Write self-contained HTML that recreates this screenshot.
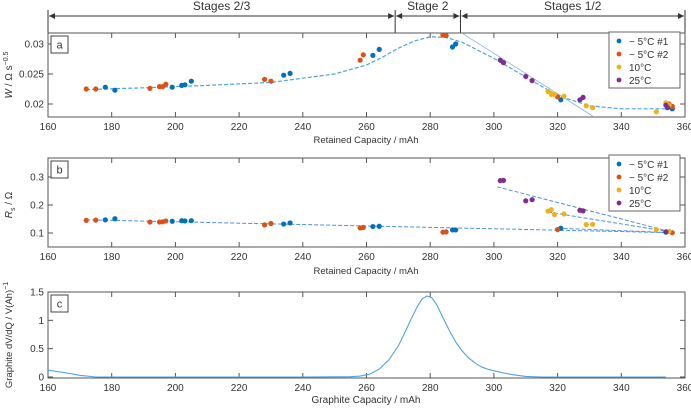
<!DOCTYPE html>
<html><head><meta charset="utf-8"><style>
body{margin:0;background:#fff;font-family:"Liberation Sans",sans-serif}
svg text{font-family:"Liberation Sans",sans-serif;fill:#333}
</style></head><body>
<svg id="c" width="691" height="410" viewBox="0 0 691 410" xmlns="http://www.w3.org/2000/svg"></svg>
<script>
const xTicks=[160,180,200,220,240,260,280,300,320,340,360];
const aTicks=[0.02,0.025,0.03];
const bTicks=[0.1,0.2,0.3];
const cTicks=[0,0.5,1,1.5];
const stageBounds=[160,269,289.5,360];
const stageNames=["Stages 2/3","Stage 2","Stages 1/2"];
const seriesNames=["\u2212 5\u00b0C #1","\u2212 5\u00b0C #2","10\u00b0C","25\u00b0C"];
const colors=["#0072BD","#D95319","#EDB120","#7E2F8E"];
const aM1x=[178,181,199,202,203,205,234,236,262,264,287,288,321,356];
const aM1y=[0.0228,0.0223,0.0228,0.0231,0.0232,0.0238,0.0248,0.0251,0.0281,0.0291,0.0295,0.0300,0.0207,0.0192];
const aM2x=[172,175,192,195,196,197,228,230,258,259,284,285,320,355,356];
const aM2y=[0.0225,0.0225,0.0226,0.0229,0.0229,0.0233,0.0241,0.0238,0.0273,0.0282,0.0315,0.0314,0.0212,0.0200,0.0196];
const a10x=[317,318,319,322,329,331,351,354,355];
const a10y=[0.0221,0.0216,0.0216,0.0213,0.0197,0.0194,0.0187,0.0202,0.0198];
const a25x=[302,303,310,312,327,328,354,354.5];
const a25y=[0.0273,0.0269,0.0246,0.0239,0.0207,0.0211,0.0198,0.0194];
const aFitX=[172,190,210,230,250,260,265,270,275,280,285,290,300,310,320,330,340,357];
const aFitY=[0.0224,0.0227,0.0231,0.0236,0.0250,0.0265,0.0278,0.0293,0.0305,0.0312,0.0311,0.0303,0.0276,0.0245,0.0214,0.0197,0.0192,0.0192];
const aLinX=[290,331];
const aLinY=[0.0318,0.0180];
const bM1x=[178,181,199,202,203,205,234,236,262,264,287,288,321,354];
const bM1y=[0.147,0.151,0.142,0.144,0.143,0.144,0.132,0.136,0.123,0.124,0.111,0.111,0.117,0.103];
const bM2x=[172,175,192,195,196,197,228,230,258,259,284,285,320,356];
const bM2y=[0.145,0.146,0.139,0.139,0.140,0.143,0.129,0.134,0.118,0.120,0.103,0.104,0.112,0.101];
const b10x=[317,318,319,322,329,331,351,355];
const b10y=[0.178,0.183,0.166,0.168,0.130,0.131,0.112,0.106];
const b25x=[302,303,310,312,327,328,354];
const b25y=[0.287,0.288,0.215,0.219,0.181,0.179,0.104];
const bFits=[[[172,356],[0.147,0.101]],[[301,356],[0.265,0.103]],[[317,356],[0.175,0.103]],[[320,356],[0.117,0.101]]];
const cX=[160,165,170,175,200,240,255,258,261,264,267,270,272,274,276,277.5,279,280.5,282,284,286,288,290,292,294,296,298,300,303,306,310,315,354];
const cY=[0.12,0.08,0.03,0,0,0,0.005,0.015,0.05,0.14,0.3,0.55,0.78,1.02,1.25,1.38,1.43,1.40,1.28,1.05,0.82,0.62,0.46,0.34,0.25,0.18,0.14,0.11,0.07,0.04,0.01,0,0];
const S=document.getElementById('c'),NS="http://www.w3.org/2000/svg";
function mk(t,a,p){const e=document.createElementNS(NS,t);for(const k in a)e.setAttribute(k,a[k]);(p||S).appendChild(e);return e;}
const X=v=>48+(v-160)*(637/200);
function panel(top,bot,y0,v0,y1,v1,ticks,fmt,lab,name){
 const Y=v=>y0+(v-v0)*(y1-y0)/(v1-v0);
 const g=mk('g',{});
 mk('rect',{x:48,y:top,width:637,height:bot-top,fill:'none',stroke:'#555','stroke-width':1},g);
 xTicks.forEach(t=>{mk('line',{x1:X(t),x2:X(t),y1:bot,y2:bot-5,stroke:'#555'},g);mk('line',{x1:X(t),x2:X(t),y1:top,y2:top+5,stroke:'#555'},g);
  const tx=mk('text',{x:X(t),y:bot+13,'font-size':10,'text-anchor':'middle'},g);tx.textContent=t;});
 ticks.forEach(t=>{mk('line',{x1:48,x2:53,y1:Y(t),y2:Y(t),stroke:'#555'},g);mk('line',{x1:685,x2:680,y1:Y(t),y2:Y(t),stroke:'#555'},g);
  const tx=mk('text',{x:44,y:Y(t)+3.5,'font-size':10,'text-anchor':'end'},g);tx.textContent=fmt(t);});
 mk('rect',{x:51,y:top+3,width:17,height:17,fill:'#fff',stroke:'#444'},g);
 const l=mk('text',{x:59.5,y:top+15.5,'font-size':11,'text-anchor':'middle'},g);l.textContent=lab;
 return {Y,g};
}
function path(xs,ys,Y,attrs,g){return mk('path',Object.assign({d:xs.map((x,i)=>(i?'L':'M')+X(x).toFixed(1)+','+Y(ys[i]).toFixed(1)).join(''),fill:'none'},attrs),g);}
function dots(xs,ys,Y,col,g,nm){xs.forEach((x,i)=>{const c=mk('circle',{cx:X(x),cy:Y(ys[i]),r:2.6,fill:col},g);});}
function legend(top,g){const r=mk('rect',{x:609,y:top,width:71,height:56,fill:'#fff',stroke:'#666'},g);
 seriesNames.forEach((n,i)=>{mk('circle',{cx:619,cy:top+9+i*13,r:2.4,fill:colors[i]},g);
  const t=mk('text',{x:629,y:top+13+i*13,'font-size':10},g);t.textContent=n;});}
const sg=mk('g',{});
stageBounds.forEach(b=>mk('line',{x1:X(b),x2:X(b),y1:10,y2:33,stroke:'#333'},sg));
for(let i=0;i<3;i++){const a=X(stageBounds[i])+1,b=X(stageBounds[i+1])-1;
 mk('line',{x1:a,x2:b,y1:16,y2:16,stroke:'#333'},sg);
 mk('path',{d:`M${a},16l6,-3v6z M${b},16l-6,-3v6z`,fill:'#333'},sg);
 const t=mk('text',{x:(a+b)/2,y:10,'font-size':12,'text-anchor':'middle'},sg);t.textContent=stageNames[i];}
const A=panel(33,117,104,0.02,44,0.03,aTicks,t=>t===0.02?'0.02':t===0.03?'0.03':'0.025','a','panel-a');
path(aFitX,aFitY,A.Y,{stroke:'#4DA3E0','stroke-dasharray':'4,2','stroke-width':1.2},A.g);
path(aLinX,aLinY,A.Y,{stroke:'#7FB2E5','stroke-width':0.8},A.g);
dots(aM1x,aM1y,A.Y,colors[0],A.g,'point-m5-1');dots(aM2x,aM2y,A.Y,colors[1],A.g,'point-m5-2');
dots(a10x,a10y,A.Y,colors[2],A.g,'point-10c');dots(a25x,a25y,A.Y,colors[3],A.g,'point-25c');
legend(32,A.g);
const B=panel(158,247,233,0.1,177,0.3,bTicks,t=>t.toFixed(1),'b','panel-b');
bFits.forEach(f=>path(f[0],f[1],B.Y,{stroke:'#4D8FE0','stroke-dasharray':'4,2','stroke-width':1},B.g));
dots(bM1x,bM1y,B.Y,colors[0],B.g,'point-m5-1');dots(bM2x,bM2y,B.Y,colors[1],B.g,'point-m5-2');
dots(b10x,b10y,B.Y,colors[2],B.g,'point-10c');dots(b25x,b25y,B.Y,colors[3],B.g,'point-25c');
legend(155,B.g);
const C=panel(292,378,377,0,292,1.5,cTicks,t=>String(t),'c','panel-c');
path(cX,cY,C.Y,{stroke:'#4DA3E0','stroke-width':1.1,'stroke-linejoin':'round'},C.g);
function txt(x,y,s,sz,rot,nm){const t=mk('text',{x,y,'font-size':sz,'text-anchor':'middle',transform:rot?`rotate(-90 ${x} ${y})`:''});t.textContent=s;return t;}
txt(366,143,'Retained Capacity / mAh',9.5,0,'x-axis-title-a');
txt(366,274,'Retained Capacity / mAh',9.5,0,'x-axis-title-b');
txt(366,403,'Graphite Capacity / mAh',10,0,'x-axis-title-c');
txt(12,75,'W / Ω s^-0.5',10,1,'y-axis-title-a').innerHTML='<tspan font-style="italic">W</tspan> / Ω s<tspan dy="-4" font-size="7">−0.5</tspan>';
txt(12,205,'Rs / Ω',10,1,'y-axis-title-b').innerHTML='<tspan font-style="italic">R</tspan><tspan dy="3" font-size="7">s</tspan><tspan dy="-3"> / Ω</tspan>';
txt(12,335,'Graphite dV/dQ / V(Ah)^-1',9.5,1,'y-axis-title-c').innerHTML='Graphite dV/dQ  /  V(Ah)<tspan dy="-4" font-size="7">−1</tspan>';
</script></body></html>
